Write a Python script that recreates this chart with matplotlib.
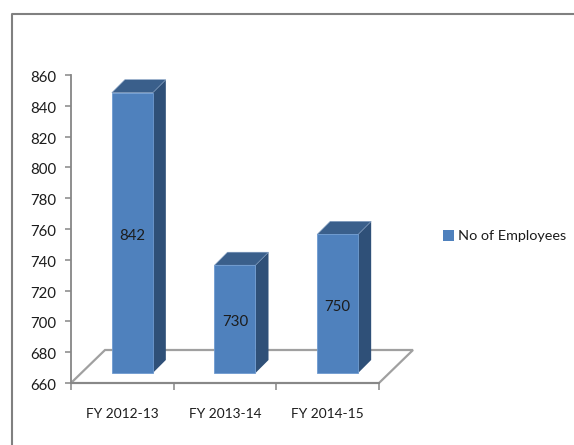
import matplotlib
matplotlib.use("Agg")
import matplotlib.pyplot as plt
from matplotlib.patches import Polygon, Rectangle
from matplotlib.lines import Line2D
from matplotlib.transforms import ScaledTranslation
import numpy as np

categories = ["FY 2012-13", "FY 2013-14", "FY 2014-15"]
employees = [842, 730, 750]
series_name = "No of Employees"
y_min, y_max, y_step = 660, 860, 20

W, H = 574, 445
plt.rcParams['font.family'] = ['Lato', 'DejaVu Sans']
TXT = '#1c1c1c'
GRAY = '#868686'
FRONT, SIDE, TOP = '#4F81BD', '#2F5078', '#3A5F8B'
FS = 10.8

fig = plt.figure(figsize=(W/100, H/100), dpi=100)
left, right, top, bottom = 71, 379, 75, 383
ax = fig.add_axes([left/W, 1-bottom/H, (right-left)/W, (bottom-top)/H])
n = len(categories)
ax.set_xlim(0, n)
ax.set_ylim(y_min, y_max)
px_x = (right-left)/n      # pixels per category
px_y = (bottom-top)/(y_max-y_min)  # pixels per unit

# outer chart frame: top and left edge only
fig.add_artist(Line2D([1, 11.5/W, 11.5/W], [1-14/H, 1-14/H, 0],
                      transform=fig.transFigure, color='#808080', lw=1.5))

# floor
fd_x, fd_y = 34/px_x, 33/px_y
floor = Polygon([(0, y_min), (n, y_min), (n+fd_x, y_min+fd_y), (fd_x, y_min+fd_y)],
                closed=True, facecolor='white', edgecolor='#a0a0a0', lw=1.6,
                clip_on=False, zorder=1)
ax.add_patch(floor)

# bars
lift = 10/px_y
shift = 10/px_x
width = 41/px_x
dx, dy = 13/px_x, 13/px_y
xs = np.arange(n) + 0.5 + shift
vals = np.array(employees, dtype=float)
ax.bar(xs, vals-y_min, width=width, bottom=y_min+lift, color=FRONT,
       edgecolor='#6f9bd0', lw=0.6, zorder=3, clip_on=False)
for x, v in zip(xs, vals):
    x0, x1 = x-width/2, x+width/2
    y0, y1 = y_min+lift, v+lift
    ax.add_patch(Polygon([(x1, y0), (x1+dx, y0+dy), (x1+dx, y1+dy), (x1, y1)],
                         facecolor=SIDE, edgecolor='none', clip_on=False, zorder=2))
    ax.add_patch(Polygon([(x0, y1), (x0+dx, y1+dy), (x1+dx, y1+dy), (x1, y1)],
                         facecolor=TOP, edgecolor='#7f9cc0', lw=0.4, clip_on=False, zorder=2))
    ax.text(x, (y0+y1)/2 - 3/px_y, f"{int(v)}", ha='center', va='center',
            fontsize=FS, color=TXT, zorder=4)

# axes
for s in ('top', 'right'):
    ax.spines[s].set_visible(False)
for s in ('left', 'bottom'):
    ax.spines[s].set_color(GRAY)
    ax.spines[s].set_linewidth(1.3)
ax.set_yticks(np.arange(y_min, y_max+1, y_step))
ax.set_xticks(np.arange(n+1))
ax.set_xticklabels([])
ax.set_xticks(np.arange(n)+0.5, minor=True)
ax.set_xticklabels(categories, minor=True)
ax.tick_params(axis='y', length=4.5, width=1.1, color=GRAY, pad=6, labelsize=FS, labelcolor=TXT)
ax.tick_params(axis='x', which='major', length=5, width=1.1, color=GRAY)
ax.tick_params(axis='x', which='minor', length=0, pad=18, labelsize=9.9, labelcolor=TXT)
down = ScaledTranslation(0, -1.5/100, fig.dpi_scale_trans)
for lab in ax.get_yticklabels():
    lab.set_transform(lab.get_transform() + down)

# legend
handle = Rectangle((0, 0), 1, 1, facecolor=FRONT, edgecolor='none')
fig.legend([handle], [series_name], loc='center left',
           bbox_to_anchor=(440/W, 1-236/H), frameon=False, fontsize=10.4,
           labelcolor=TXT, handlelength=0.75, handleheight=0.85,
           handletextpad=0.3, borderpad=0.2, borderaxespad=0)

fig.savefig("out.png", dpi=100)
